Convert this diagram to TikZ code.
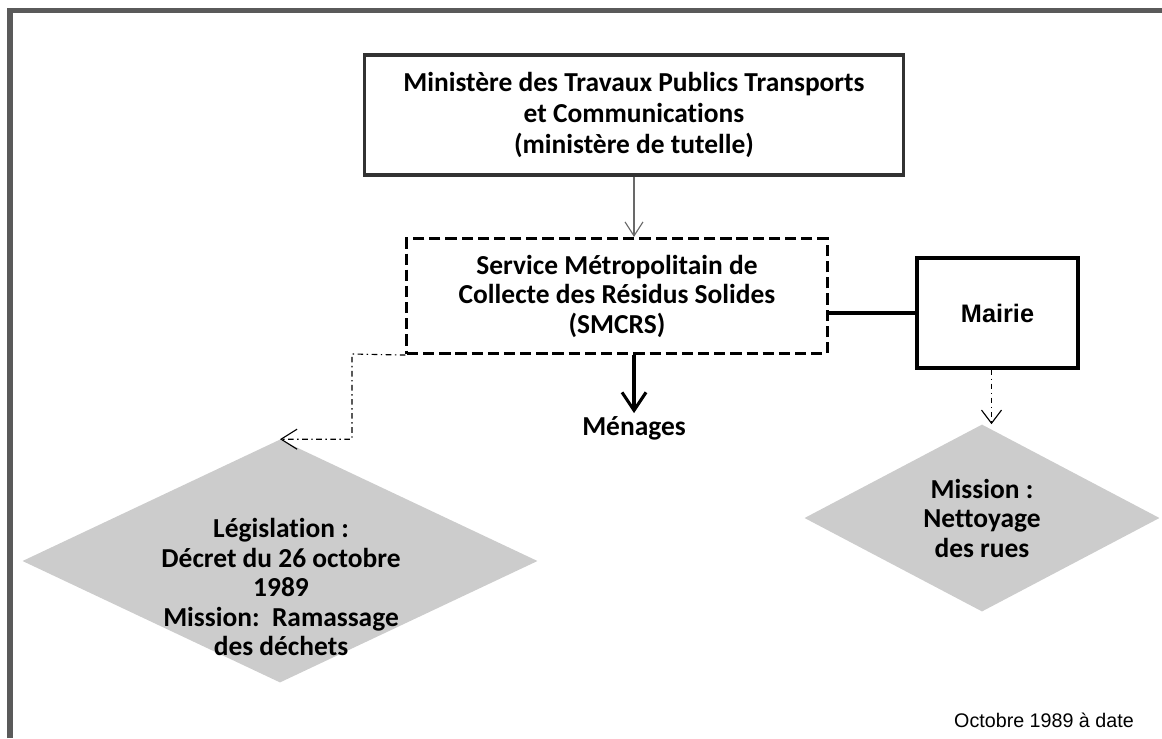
\documentclass[tikz,border=0pt]{standalone}
\usepackage{fontspec}
\setmainfont[Ligatures=NoCommon]{Carlito}
\newfontfamily\arialfont{Liberation Sans}
\usetikzlibrary{shapes.geometric,arrows.meta}

\begin{document}
\begin{tikzpicture}[x=0.025cm,y=-0.025cm]

    % Colours of the scanned chart
    \definecolor{framecol}{RGB}{90,90,90}
    \definecolor{boxcol}{RGB}{50,50,50}
    \definecolor{diacol}{RGB}{204,204,204}
    \definecolor{linkcol}{RGB}{105,105,105}

    % Common styles
    \tikzset{
        boxtext/.style={font=\fontsize{19.5}{21}\selectfont\bfseries, align=center},
        orgbox/.style={boxtext, draw, line width=2.2pt, inner sep=0pt},
        missiondia/.style={diamond, fill=diacol, inner sep=0pt},
        dashdot/.style={line width=0.8pt, dash pattern=on 4pt off 2.5pt on 1pt off 2.5pt}
    }

    \useasboundingbox (0,0) rectangle (1162,738);

    % ================== outer frame ==================
    \draw[framecol, line width=3.9pt] (10,738) -- (10,10.5) -- (1162,10.5);

    % ================== boxes ==================
    \node[orgbox, boxcol, text=black, font=\fontsize{19.5}{22.3}\selectfont\bfseries,
        minimum width=13.45cm, minimum height=3cm]
        (tutelle) at (634,115)
        {Ministère des Travaux Publics Transports\\et Communications\\(ministère de tutelle)};
    \node[orgbox, dash pattern=on 8pt off 3.5pt, minimum width=10.5cm, minimum height=2.875cm]
        (smcrs) at (617,296)
        {Service Métropolitain de\\Collecte des Résidus Solides\\(SMCRS)};
    \node[orgbox, font=\arialfont\fontsize{18}{22}\selectfont\bfseries,
        minimum width=4.025cm, minimum height=2.75cm]
        (mairie) at (997.5,313) {Mairie};
    \node[boxtext, inner sep=2pt] (menages) at (634,428) {Ménages};

    % ================== missions ==================
    \node[missiondia, minimum width=12.875cm, minimum height=6.075cm] (legdia) at (280,561) {};
    \node[boxtext] (legtext) at (281,587)
        {Législation :\\Décret du 26 octobre\\1989\\Mission:~~Ramassage\\des déchets};
    \node[missiondia, minimum width=8.875cm, minimum height=4.675cm] (nettdia) at (982,518) {};
    \node[boxtext] (netttext) at (982,518) {Mission :\\Nettoyage\\des rues};

    \node[font=\arialfont\fontsize{14}{17}\selectfont, anchor=base east, inner sep=0pt]
        (periode) at (1134,727) {Octobre 1989 à date};

    % ================== connectors ==================
    \draw[linkcol, line width=0.8pt, -{Straight Barb[length=3.5mm, width=4.5mm]}]
        (tutelle.south) -- (tutelle.south |- smcrs.north);
    \draw[line width=2.2pt, -{Straight Barb[length=4.5mm, width=6mm]}]
        (menages.north |- smcrs.south) -- (menages.north);
    \draw[line width=3.5pt] (mairie.west) -- (smcrs.east |- mairie.west);

    \coordinate (bend) at (352,354);
    \draw[dashdot, -{Straight Barb[length=4mm, width=5mm]}]
        (smcrs.south west) -- (bend) |- (legdia.north);
    \draw[dashdot, -{Straight Barb[length=3.3mm, width=5mm]}]
        ([xshift=-0.15cm]mairie.south) -- ([xshift=-0.15cm]mairie.south |- nettdia.north);

\end{tikzpicture}
\end{document}
